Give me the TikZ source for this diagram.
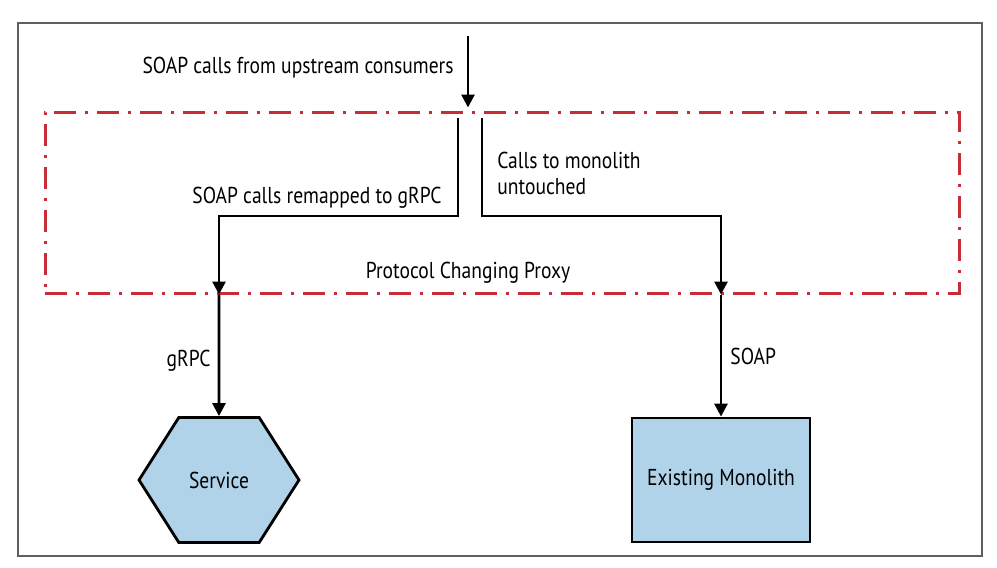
\documentclass[tikz,border=0pt]{standalone}
\usepackage{fontspec}
\setmainfont{PT Sans}[FakeStretch=0.85]
\usepackage{tikz}
\usetikzlibrary{positioning}
\usetikzlibrary{arrows.meta}
\usetikzlibrary{shapes.symbols}
\definecolor{azulclaro}{RGB}{176,211,233}
\definecolor{rojoproxy}{RGB}{200,45,55}
\definecolor{grismarco}{RGB}{95,95,95}

\begin{document}
\begin{tikzpicture}[x=1pt, y=-1pt, line width=2.8pt,
    >={Triangle[width=13pt,length=13pt]},
    every node/.style={font=\fontsize{23}{26}\selectfont, inner sep=0pt},
    caja/.style={draw, fill=azulclaro, minimum width=178pt, minimum height=124pt},
    hexa/.style={draw, fill=azulclaro, signal, signal to=west and east,
      signal pointer angle=115, minimum width=160pt, minimum height=125pt},
    proxy/.style={draw=rojoproxy, line width=3pt, dash pattern=on 22pt off 9pt on 3pt off 9pt,
      minimum width=914pt, minimum height=181pt}]
            \useasboundingbox (0,0) rectangle (997,568);
            \draw[grismarco, line width=1.2pt] (18,23) rectangle (982,556);

            % Nodos
            \node[proxy] (proxy) at (502,202.5) {};
            \node[hexa] (svc) at (219,480) {Service};
            \node[caja] (mono) at (721,480) {Existing Monolith};
            \coordinate (entrada) at (468,36);
            \coordinate (a1) at (458,118);
            \coordinate (a2) at (219,216);
            \coordinate (b1) at (482,118);
            \coordinate (b2) at (721,216);

            % Etiquetas
            \node[anchor=base east] (lbl-up) at (455,73) {SOAP calls from upstream consumers};
            \node[anchor=base east] (lbl-grpc) at (443,203) {SOAP calls remapped to gRPC};
            \node[anchor=base west, align=left] (lbl-mono) at (496,194) {Calls to monolith\\untouched};
            \node[anchor=base] (lbl-proxy) at (468,278) {Protocol Changing Proxy};
            \node[anchor=base east] (lbl-g) at (212,366) {gRPC};
            \node[anchor=base west] (lbl-s) at (729,364) {SOAP};

            % Aristas
            \draw[->, shorten >=3pt] (entrada) -- (entrada |- proxy.north);
            \draw[->] (a1) |- (a2) -- (a2 |- proxy.south);
            \draw[->] (b1) |- (b2) -- (b2 |- proxy.south);
            \draw[->] (svc |- proxy.south) -- (svc);
            \draw[->] (mono |- proxy.south) -- (mono);
          \end{tikzpicture}
\end{document}
